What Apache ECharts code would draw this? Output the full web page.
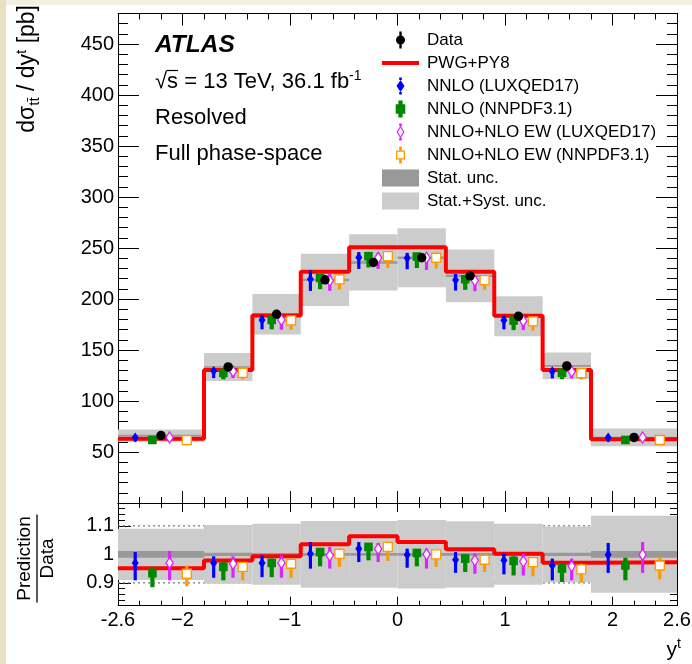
<!DOCTYPE html>
<html><head><meta charset="utf-8">
<script src="https://cdn.jsdelivr.net/npm/echarts@6/dist/echarts.min.js"></script>
<style>html,body{margin:0;padding:0;background:#fff}#c{width:692px;height:664px}</style>
</head><body><div id="c"></div>
<script>
// ---------------- data ----------------
const binEdges = [-2.6, -1.8, -1.35, -0.9, -0.45, 0, 0.45, 0.9, 1.35, 1.8, 2.6];
const dataVals = [66.2, 133.4, 185.1, 218.9, 235.9, 240.5, 222.8, 183.1, 134.4, 64.3];
const pwgVals  = [63.0, 130.5, 183.8, 226.7, 250.9, 250.9, 226.7, 183.5, 130.5, 62.5];
const statRel  = [0.012, 0.006, 0.005, 0.005, 0.005, 0.005, 0.005, 0.005, 0.006, 0.012];
const systRel  = [0.090, 0.103, 0.107, 0.117, 0.117, 0.120, 0.116, 0.107, 0.098, 0.135];
// prediction / data ratios and their error-bar ends
const luxR    = [0.970, 0.970, 0.970, 1.002, 1.020, 0.999, 0.981, 0.979, 0.961, 0.999];
const luxLo   = [0.909, 0.918, 0.920, 0.950, 0.973, 0.953, 0.935, 0.930, 0.909, 0.935];
const luxHi   = [1.008, 0.993, 0.996, 1.043, 1.043, 1.020, 1.008, 1.002, 0.985, 1.040];
const nnR     = [0.934, 0.956, 0.970, 1.008, 1.026, 1.005, 0.985, 0.977, 0.950, 0.961];
const nnLo    = [0.885, 0.909, 0.920, 0.958, 0.979, 0.958, 0.938, 0.926, 0.903, 0.909];
const nnHi    = [0.956, 0.973, 0.985, 1.020, 1.040, 1.016, 1.000, 0.993, 0.967, 0.988];
const ewLuxR  = [0.970, 0.967, 0.970, 0.996, 1.019, 1.000, 0.979, 0.975, 0.959, 0.999];
const ewLuxLo = [0.909, 0.918, 0.918, 0.950, 0.973, 0.950, 0.932, 0.926, 0.909, 0.935];
const ewLuxHi = [1.012, 0.993, 0.996, 1.026, 1.040, 1.020, 1.002, 1.002, 0.985, 1.043];
const ewNnR   = [0.932, 0.956, 0.967, 1.002, 1.026, 1.000, 0.981, 0.973, 0.947, 0.961];
const ewNnLo  = [0.888, 0.909, 0.918, 0.956, 0.977, 0.956, 0.938, 0.923, 0.901, 0.912];
const ewNnHi  = [0.961, 0.967, 0.979, 1.020, 1.037, 1.002, 0.991, 0.985, 0.967, 0.991];
const mainYLabels  = [50, 100, 150, 200, 250, 300, 350, 400, 450];
const ratioYLabels = [0.9, 1, 1.1];
const xLabels      = [-2.6, -2, -1, 0, 1, 2, 2.6];
const refLines     = [0.9, 1.1];

// ---------------- helpers ----------------
const FONT = 'Liberation Sans, Arial, sans-serif';
const r2 = v => Math.round(v * 1e6) / 1e6;
function range(a, b, s) { const o = []; const n = Math.round((b - a) / s); for (let k = 0; k <= n; k++) o.push(r2(a + k * s)); return o; }
const xMinor = range(-2.6, 2.6, 0.2);
const xMajor = [-2, -1, 0, 1, 2];
const yMainMinor = range(0, 480, 10);
const yMainMajor = range(0, 450, 50);
const yRatMinor = range(0.82, 1.18, 0.02);
const yRatMajor = [0.9, 1, 1.1];

function xAx(grid, pos, ticks, len, line, labels) {
  return {
    type: 'value', gridIndex: grid, position: pos, min: -2.6, max: 2.6,
    axisLine: { show: line, onZero: false, lineStyle: { color: '#000', width: 1 } },
    axisTick: { show: true, inside: true, length: len, customValues: ticks, lineStyle: { color: '#000', width: 1 } },
    axisLabel: labels ? {
      show: true, customValues: xLabels, margin: 5, fontSize: 20, fontFamily: FONT, color: '#000',
      showMinLabel: true, showMaxLabel: true, hideOverlap: false,
      formatter: v => {
        v = r2(v);
        if (Math.abs(Math.abs(v) - 2.6) < 1e-6) return v < 0 ? '-2.6' : '2.6';
        return v < 0 ? '\u2212' + Math.abs(v) : String(v);
      }
    } : { show: false },
    splitLine: { show: false }
  };
}
function yAx(grid, pos, min, max, ticks, len, line, labels) {
  return {
    type: 'value', gridIndex: grid, position: pos, min: min, max: max,
    axisLine: { show: line, onZero: false, lineStyle: { color: '#000', width: 1 } },
    axisTick: { show: true, inside: true, length: len, customValues: ticks, lineStyle: { color: '#000', width: 1 } },
    axisLabel: labels ? {
      show: true, customValues: labels, margin: 4, fontSize: 20, fontFamily: FONT, color: '#000',
      showMinLabel: true, showMaxLabel: true, hideOverlap: false,
      formatter: v => String(r2(v))
    } : { show: false },
    splitLine: { show: false }
  };
}

const xAxes = [
  xAx(0, 'bottom', xMinor, 6, true, false),
  xAx(0, 'bottom', xMajor, 12, false, false),
  xAx(0, 'top', xMinor, 6, true, false),
  xAx(0, 'top', xMajor, 12, false, false),
  xAx(1, 'bottom', xMinor, 5, true, true),
  xAx(1, 'bottom', xMajor, 9, false, false),
  xAx(1, 'top', xMinor, 5, true, false),
  xAx(1, 'top', xMajor, 9, false, false)
];
const yAxes = [
  yAx(0, 'left', 0, 480, yMainMajor, 21, true, mainYLabels),
  yAx(0, 'left', 0, 480, yMainMinor, 10, false, null),
  yAx(0, 'right', 0, 480, yMainMajor, 21, true, null),
  yAx(0, 'right', 0, 480, yMainMinor, 10, false, null),
  yAx(1, 'left', 0.82, 1.18, yRatMajor, 13, true, ratioYLabels),
  yAx(1, 'left', 0.82, 1.18, yRatMinor, 7, false, null),
  yAx(1, 'right', 0.82, 1.18, yRatMajor, 13, true, null),
  yAx(1, 'right', 0.82, 1.18, yRatMinor, 7, false, null)
];

function bandSeries(name, rel, color, isRatio, z) {
  return {
    name: name, type: 'custom', xAxisIndex: isRatio ? 4 : 0, yAxisIndex: isRatio ? 4 : 0, z: z,
    itemStyle: { color: color }, silent: true,
    data: rel.map((r, i) => { const c = isRatio ? 1 : dataVals[i]; return [binEdges[i], binEdges[i + 1], c * (1 - r), c * (1 + r)]; }),
    encode: { x: [0, 1], y: [2, 3] },
    renderItem: (p, api) => {
      const a = api.coord([api.value(0), api.value(3)]);
      const b = api.coord([api.value(1), api.value(2)]);
      return { type: 'rect', shape: { x: a[0], y: a[1], width: b[0] - a[0], height: b[1] - a[1] }, style: { fill: color } };
    }
  };
}

function predSeries(name, R, Lo, Hi, frac, color, marker, isRatio) {
  return {
    name: name, type: 'custom', xAxisIndex: isRatio ? 4 : 0, yAxisIndex: isRatio ? 4 : 0, z: 4,
    itemStyle: { color: color }, silent: true,
    data: R.map((r, i) => {
      const c = isRatio ? 1 : dataVals[i];
      const x = binEdges[i] + frac * (binEdges[i + 1] - binEdges[i]);
      return [x, r * c, Lo[i] * c, Hi[i] * c];
    }),
    encode: { x: 0, y: [1, 2, 3] },
    renderItem: (p, api) => {
      const c = api.coord([api.value(0), api.value(1)]);
      const lo = api.coord([api.value(0), api.value(2)]);
      const hi = api.coord([api.value(0), api.value(3)]);
      const bw = marker === 'square' ? 4.2 : 3.2;
      const kids = [{ type: 'rect', shape: { x: c[0] - bw / 2, y: hi[1], width: bw, height: lo[1] - hi[1] }, style: { fill: color } }];
      const x = c[0], y = c[1];
      if (marker === 'diamond') kids.push({ type: 'polygon', shape: { points: [[x, y - 5], [x + 3.5, y], [x, y + 5], [x - 3.5, y]] }, style: { fill: color } });
      if (marker === 'square') kids.push({ type: 'rect', shape: { x: x - 4.3, y: y - 4.3, width: 8.6, height: 8.6 }, style: { fill: color } });
      if (marker === 'odiamond') kids.push({ type: 'polygon', shape: { points: [[x, y - 5.5], [x + 3.6, y], [x, y + 5.5], [x - 3.6, y]] }, style: { fill: '#fff', stroke: color, lineWidth: 1.3 } });
      if (marker === 'osquare') kids.push({ type: 'rect', shape: { x: x - 4.5, y: y - 4.5, width: 9, height: 9 }, style: { fill: '#fff', stroke: color, lineWidth: 1.3 } });
      return { type: 'group', children: kids };
    }
  };
}

function stepData(vals) {
  const d = vals.map((v, i) => [binEdges[i], v]);
  d.push([binEdges[binEdges.length - 1], vals[vals.length - 1]]);
  return d;
}

const BLUE = '#0000ff', GREEN = '#008800', MAG = '#dd22ff', ORG = '#ff9900', RED = '#ff0000';
const LIGHT = '#cccccc', DARK = '#999999';

const series = [];
refLines.forEach(v => series.push({
  type: 'line', xAxisIndex: 4, yAxisIndex: 4, z: 1, silent: true, symbol: 'none',
  data: [[-2.6, v], [2.6, v]], lineStyle: { color: '#777', width: 1.3, type: [2, 3] }
}));
series.push(bandSeries('Stat.+Syst. unc.', systRel, LIGHT, false, 2));
series.push(bandSeries('Stat. unc.', statRel, DARK, false, 2));
series.push(bandSeries('Stat.+Syst. unc.', systRel, LIGHT, true, 2));
series.push(bandSeries('Stat. unc.', statRel, DARK, true, 2));
series.push({
  name: 'PWG+PY8', type: 'line', step: 'end', xAxisIndex: 0, yAxisIndex: 0, z: 3, symbol: 'none', silent: true,
  data: stepData(pwgVals), lineStyle: { color: RED, width: 4 }, itemStyle: { color: RED }
});
series.push({
  name: 'PWG+PY8', type: 'line', step: 'end', xAxisIndex: 4, yAxisIndex: 4, z: 3, symbol: 'none', silent: true,
  data: stepData(pwgVals.map((v, i) => v / dataVals[i])), lineStyle: { color: RED, width: 4 }, itemStyle: { color: RED }
});
[false, true].forEach(isR => {
  series.push(predSeries('NNLO (LUXQED17)', luxR, luxLo, luxHi, 0.2, BLUE, 'diamond', isR));
  series.push(predSeries('NNLO (NNPDF3.1)', nnR, nnLo, nnHi, 0.4, GREEN, 'square', isR));
  series.push(predSeries('NNLO+NLO EW (LUXQED17)', ewLuxR, ewLuxLo, ewLuxHi, 0.6, MAG, 'odiamond', isR));
  series.push(predSeries('NNLO+NLO EW (NNPDF3.1)', ewNnR, ewNnLo, ewNnHi, 0.8, ORG, 'osquare', isR));
});
series.push({
  name: 'Data', type: 'scatter', xAxisIndex: 0, yAxisIndex: 0, z: 5, silent: true,
  symbol: 'circle', symbolSize: 9.5, itemStyle: { color: '#000', opacity: 1 },
  data: dataVals.map((v, i) => [(binEdges[i] + binEdges[i + 1]) / 2, v])
});

// legend icons
const icData = 'path://M-1.2,0 L1.2,0 L1.2,4 L-1.2,4 Z M-1.2,13 L1.2,13 L1.2,17 L-1.2,17 Z M-4.5,8.5 A4.5,4.5 0 1 1 4.5,8.5 A4.5,4.5 0 1 1 -4.5,8.5 Z';
const icLine = 'path://M0,0 L37,0 L37,4 L0,4 Z';
const icDiam = 'path://M-1.3,0 L1.3,0 L1.3,2.5 L-1.3,2.5 Z M-1.3,14.5 L1.3,14.5 L1.3,17 L-1.3,17 Z M0,2.5 L4,8.5 L0,14.5 L-4,8.5 Z';
const icSq = 'path://M-2,0.5 L2,0.5 L2,4 L-2,4 Z M-4.5,4 L4.5,4 L4.5,13 L-4.5,13 Z M-2,13 L2,13 L2,16.5 L-2,16.5 Z';
const icODiam = 'path://M-1.3,0 L1.3,0 L1.3,2.5 L-1.3,2.5 Z M-1.3,14.5 L1.3,14.5 L1.3,17 L-1.3,17 Z M0,2 L4,8.5 L0,15 L-4,8.5 Z M0,4.2 L-2.6,8.5 L0,12.8 L2.6,8.5 Z';
const icOSq = 'path://M-1.3,0 L1.3,0 L1.3,4 L-1.3,4 Z M-1.3,13 L1.3,13 L1.3,17 L-1.3,17 Z M-4.5,4 L4.5,4 L4.5,13 L-4.5,13 Z M-3.2,5.3 L-3.2,11.7 L3.2,11.7 L3.2,5.3 Z';

const txt = (x, y, s, fs, extra) => ({ type: 'text', x: x, y: y, z: 100, style: Object.assign({ text: s, fontSize: fs, fontFamily: FONT, fill: '#000', verticalAlign: 'middle', textVerticalAlign: 'middle' }, extra || {}) });

const option = {
  animation: false,
  backgroundColor: '#fff',
  grid: [
    { left: 118, right: 15, top: 13.5, height: 489.5, containLabel: false, outerBoundsMode: 'none' },
    { left: 118, right: 15, top: 503, height: 102.7, containLabel: false, outerBoundsMode: 'none' }
  ],
  xAxis: xAxes,
  yAxis: yAxes,
  legend: {
    orient: 'vertical', left: 382, top: 31.5, itemWidth: 37, itemHeight: 17, itemGap: 6, padding: 0,
    selectedMode: false, symbolKeepAspect: true,
    textStyle: { fontSize: 17, fontFamily: FONT, color: '#000', padding: [0, 0, 0, 3] },
    data: [
      { name: 'Data', icon: icData, itemStyle: { color: '#000', opacity: 1 } },
      { name: 'PWG+PY8', icon: icLine, itemStyle: { color: RED, borderWidth: 0 } },
      { name: 'NNLO (LUXQED17)', icon: icDiam, itemStyle: { color: BLUE } },
      { name: 'NNLO (NNPDF3.1)', icon: icSq, itemStyle: { color: GREEN } },
      { name: 'NNLO+NLO EW (LUXQED17)', icon: icODiam, itemStyle: { color: MAG } },
      { name: 'NNLO+NLO EW (NNPDF3.1)', icon: icOSq, itemStyle: { color: ORG } },
      { name: 'Stat. unc.', icon: 'rect', itemStyle: { color: DARK } },
      { name: 'Stat.+Syst. unc.', icon: 'rect', itemStyle: { color: LIGHT } }
    ]
  },
  graphic: [
    { type: 'rect', x: 0, y: 0, z: 100, shape: { width: 692, height: 5 }, style: { fill: '#F3F0DF' } },
    { type: 'rect', x: 0, y: 0, z: 100, shape: { width: 6, height: 664 }, style: { fill: '#E8E2C3' } },
    txt(155, 45, 'ATLAS', 24.5, { fontWeight: 'bold', fontStyle: 'italic' }),
    { type: 'text', x: 155, y: 82, z: 100, style: {
      text: '{n|\u221As = 13 TeV, 36.1 fb}{p|-1}',
      rich: { n: { fontSize: 22, fontFamily: FONT, lineHeight: 26, verticalAlign: 'middle', fill: '#000' }, p: { fontSize: 14, fontFamily: FONT, lineHeight: 16, verticalAlign: 'top', fill: '#000' } },
      verticalAlign: 'middle', textVerticalAlign: 'middle', fill: '#000' } },
    { type: 'line', z: 100, shape: { x1: 166.5, y1: 70.5, x2: 178, y2: 70.5 }, style: { stroke: '#000', lineWidth: 1.2 } },
    txt(155, 118, 'Resolved', 22),
    txt(155, 154, 'Full phase-space', 22),
    { type: 'text', x: 28, y: 5, rotation: Math.PI / 2, z: 100, style: {
      text: '{n|d\u03C3}{s|tt\u0304}{n| / dy}{p|t}{n| [pb]}',
      rich: { n: { fontSize: 23, fontFamily: FONT, lineHeight: 28, verticalAlign: 'middle', fill: '#000' },
              s: { fontSize: 15, fontFamily: FONT, lineHeight: 15, verticalAlign: 'bottom', fill: '#000' },
              p: { fontSize: 15, fontFamily: FONT, lineHeight: 15, verticalAlign: 'top', fill: '#000' } },
      align: 'right', textAlign: 'right', verticalAlign: 'middle', textVerticalAlign: 'middle', fill: '#000' } },
    { type: 'group', x: 37, y: 558.5, rotation: Math.PI / 2, z: 100, children: [
      { type: 'text', x: 0, y: -12, style: { text: 'Prediction', fontSize: 19, fontFamily: FONT, fill: '#000', align: 'center', textAlign: 'center', verticalAlign: 'middle', textVerticalAlign: 'middle' } },
      { type: 'line', shape: { x1: -44, y1: 0, x2: 44, y2: 0 }, style: { stroke: '#000', lineWidth: 1.3 } },
      { type: 'text', x: 0, y: 11, style: { text: 'Data', fontSize: 19, fontFamily: FONT, fill: '#000', align: 'center', textAlign: 'center', verticalAlign: 'middle', textVerticalAlign: 'middle' } }
    ] },
    { type: 'text', x: 681, y: 650, z: 100, style: {
      text: '{n|y}{p|t}',
      rich: { n: { fontSize: 21, fontFamily: FONT, lineHeight: 26, verticalAlign: 'middle', fill: '#000' }, p: { fontSize: 14, fontFamily: FONT, lineHeight: 14, verticalAlign: 'top', fill: '#000' } },
      align: 'right', textAlign: 'right', verticalAlign: 'middle', textVerticalAlign: 'middle', fill: '#000' } }
  ],
  series: series
};

const chart = echarts.init(document.getElementById('c'), null, { renderer: 'canvas' });
chart.setOption(option);
</script>
</body></html>
